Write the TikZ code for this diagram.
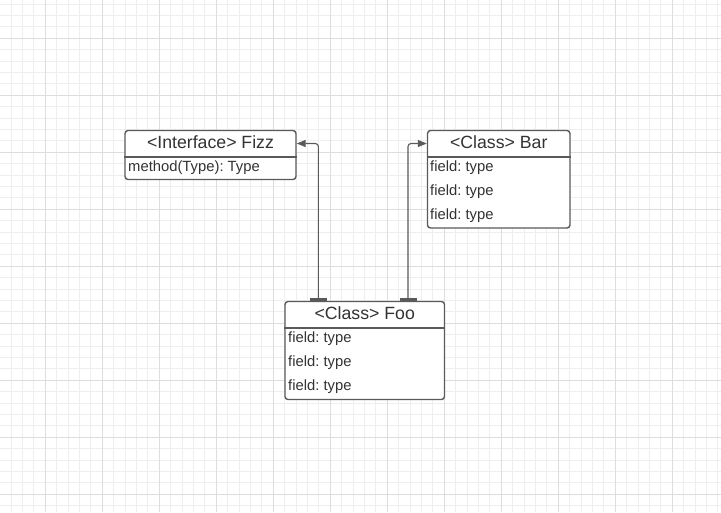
\documentclass[tikz,border=0pt]{standalone}
\usepackage{fontspec}
\setmainfont{Liberation Sans}
\usetikzlibrary{arrows.meta}
\frenchspacing

\definecolor{boxgray}{HTML}{5A5A5A}
\definecolor{textgray}{HTML}{333333}
\definecolor{minorgrid}{HTML}{EEEEEE}
\definecolor{majorgrid}{HTML}{DDDDDD}

\tikzset{
  classbox/.style={draw=boxgray, line width=1.4pt, rounded corners=3pt, fill=white, inner sep=0pt},
  classline/.style={draw=boxgray, line width=1.4pt},
  headtext/.style={font=\fontsize{17.7}{20}\selectfont, text=textgray, inner sep=0pt},
  fieldtext/.style={font=\fontsize{14.8}{17}\selectfont, text=textgray, anchor=west, inner sep=0pt},
  conn/.style={draw=boxgray, line width=1.1pt, rounded corners=3pt,
    {Bar[width=17pt, line width=2.4pt]}-{Triangle[length=9pt, width=7pt]}}
}

\begin{document}
\begin{tikzpicture}[x=1pt, y=-1pt]
        \useasboundingbox (0,0) rectangle (721,512);
        \fill[white] (0,0) rectangle (721,512);
        % grid
        \foreach \i in {0,...,63} {
          \draw[minorgrid, line width=0.9pt] (-0.3+11.4*\i,0) -- (-0.3+11.4*\i,512);
        }
        \foreach \i in {0,...,44} {
          \draw[minorgrid, line width=0.9pt] (0,4.1+11.4*\i) -- (721,4.1+11.4*\i);
        }
        \foreach \i in {0,...,11} {
          \draw[majorgrid, line width=1pt] (45.3+57*\i,0) -- (45.3+57*\i,512);
        }
        \foreach \i in {0,...,8} {
          \draw[majorgrid, line width=1pt] (0,38.3+57*\i) -- (721,38.3+57*\i);
        }

        % Fizz
        \node[classbox, minimum width=171pt, minimum height=49pt] (fizz) at (210.5,155) {};
        \draw[classline] (fizz.west |- 0,157) -- (fizz.east |- 0,157);
        \node[headtext] (fizzhead) at (fizz.north |- 0,142) {<Interface> Fizz};
        \node[fieldtext] (fizz1) at (128,168) {method(Type): Type};

        % Bar
        \node[classbox, minimum width=142.5pt, minimum height=97.5pt] (bar) at (498.75,179.25) {};
        \draw[classline] (bar.west |- 0,157) -- (bar.east |- 0,157);
        \node[headtext] (barhead) at (bar.north |- 0,142) {<Class> Bar};
        \foreach \n/\y in {1/168,2/192,3/216}
          \node[fieldtext] (bar\n) at (430,\y) {field: type};

        % Foo
        \node[classbox, minimum width=159.5pt, minimum height=98pt] (foo) at (364.75,350.5) {};
        \draw[classline] (foo.west |- 0,328) -- (foo.east |- 0,328);
        \node[headtext] (foohead) at (foo.north |- 0,313) {<Class> Foo};
        \foreach \n/\y in {1/339,2/363,3/387}
          \node[fieldtext] (foo\n) at (288,\y) {field: type};

        % connectors
        \draw[conn] (foo.north -| 318.4,0) |- (fizz.east |- 0,143.5);
        \draw[conn] (foo.north -| 408,0) |- (bar.west |- 0,143.5);
\end{tikzpicture}
\end{document}
